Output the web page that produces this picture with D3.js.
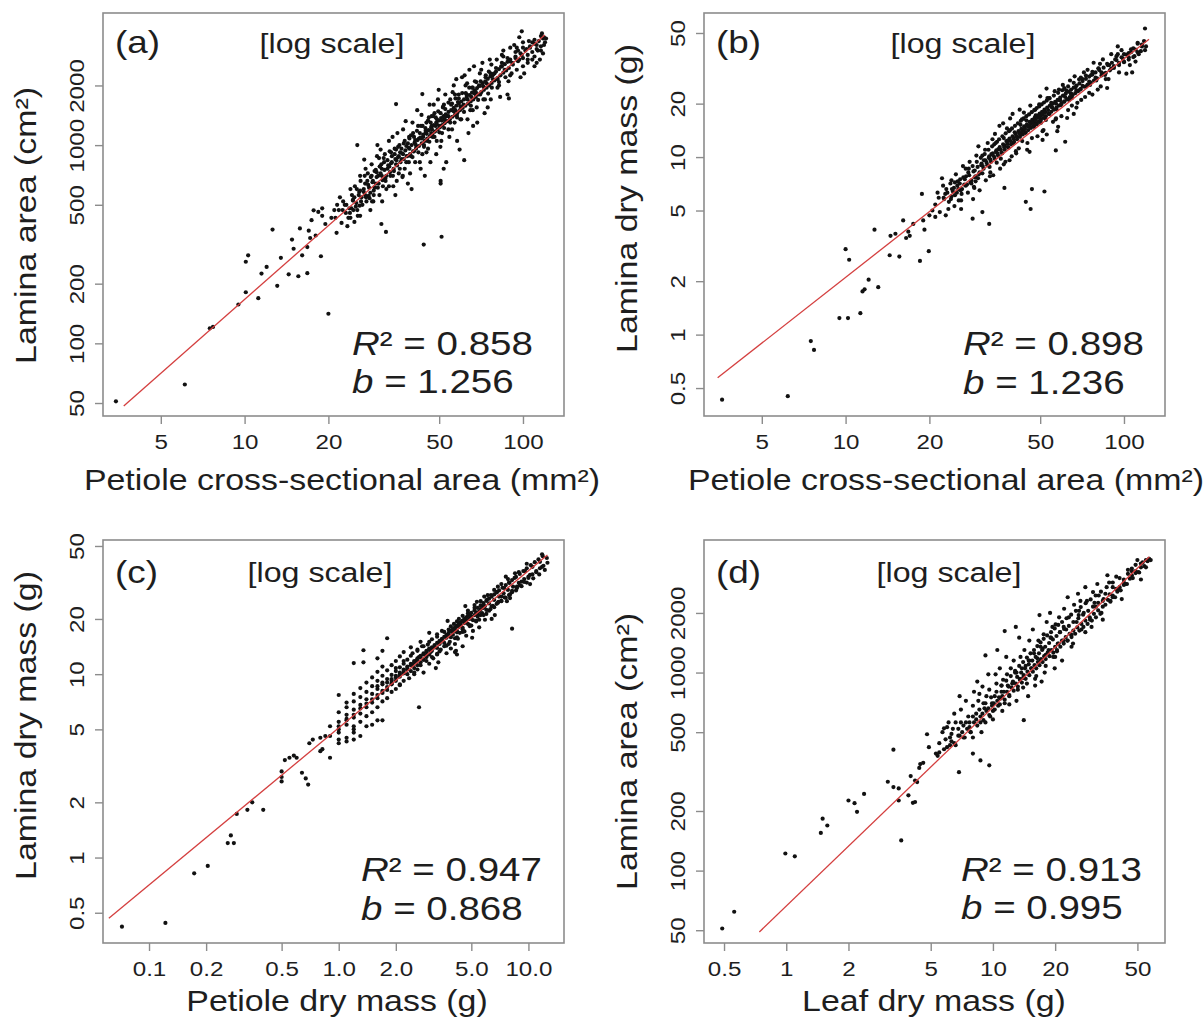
<!DOCTYPE html>
<html lang="en">
<head>
<meta charset="utf-8">
<title>Lamina vs petiole scaling</title>
<script src="https://cdn.jsdelivr.net/npm/d3@7"></script>
<style>
  body { margin: 0; background: #fff; }
  svg text { font-family: 'Liberation Sans', Arial, sans-serif; fill: #1e1e1e; }
  .frame { fill: none; stroke: #8c8c8c; stroke-width: 1.6; }
  .dot { fill: #111; }
  .fit { stroke: #d43f3f; stroke-width: 1.3; fill: none; }
</style>
</head>
<body>
<svg width="1203" height="1023"></svg>
<script>
// glyphs in the source figure are ~15% wider than Liberation Sans
var SX = 1.15;

// tick values / labels
var xTicksCsa = [5, 10, 20, 50, 100];
var xLabelsCsa = ["5", "10", "20", "50", "100"];
var yTicksArea = [50, 100, 200, 500, 1000, 2000];
var yLabelsArea = ["50", "100", "200", "500", "1000", "2000"];
var yTicksMass = [0.5, 1, 2, 5, 10, 20, 50];
var yLabelsMass = ["0.5", "1", "2", "5", "10", "20", "50"];
var xTicksPetMass = [0.1, 0.2, 0.5, 1, 2, 5, 10];
var xLabelsPetMass = ["0.1", "0.2", "0.5", "1.0", "2.0", "5.0", "10.0"];
var xTicksLeafMass = [0.5, 1, 2, 5, 10, 20, 50];
var xLabelsLeafMass = ["0.5", "1", "2", "5", "10", "20", "50"];

var statsR2 = ["0.858", "0.898", "0.947", "0.913"];
var statsB = ["1.256", "1.236", "0.868", "0.995"];

// fitted lines (end points)
var fitA = [[3.68, 48.3], [119.7, 3594]];
var fitB = [[3.47, 0.571], [123, 46.1]];
var fitC = [[0.0614, 0.466], [12.6, 44.7]];
var fitD = [[0.741, 49], [57.1, 3845]];

// (a) petiole cross-sectional area (mm2) vs lamina area (cm2): scattered points
var ptsA = [
  [3.45,51],[6.1,62],[7.5,119],[7.7,121],[9.5,157],[10.1,181],[11.2,169],[11.5,225],[12.0,243],[13.1,195],
  [10.1,258],[10.3,278],[12.6,375],[14.4,223],[14.8,334],[15.6,218],[15.8,380],[16.1,278],[16.8,226],[16.8,306],
  [17.2,340],[17.4,418],[17.7,469],[18.4,460],[19.0,480],[18.8,275],[20.0,141],[21.4,361],[44.0,315],[51.0,345],
  [35.0,1610],[43.5,1810],[32.2,365],[31.0,400],[50.6,660],[50.6,640],[61.5,840],[89.0,1720],[25.4,1000],[99,3750],
  [117,3660],[13.5,270],[15.0,300],[17.0,370],[19.5,400],[20.5,430],[18.0,350],[21.0,470],[19.0,440],
  [21.2,430],[21.8,470],[22.3,405],[22.6,520],[23.1,455],[23.4,390],[22.0,545],[23.8,480],[21.5,500],[24.0,430],
  [24.3,560],[24.6,470],[24.9,620],[25.2,510],[25.5,440],[25.8,580],[26.1,660],[24.5,525],[25.9,495],[26.3,545],[24.8,410],[26.0,700],[25.3,600],
  [26.8,580],[27.1,640],[27.4,520],[27.7,720],[28.0,610],[28.3,470],[28.6,800],[28.9,660],[27.2,760],[27.9,555],[28.4,690],[29.1,590],[26.9,845],[28.7,520],[29.3,740],
  [29.6,640],[29.9,880],[30.2,700],[30.5,560],[30.8,950],[31.1,760],[31.4,620],[31.7,820],[32.0,680],[30.0,1000],[30.6,780],[31.2,520],[31.9,900],[29.8,730],[32.3,600],[30.4,860],
  [32.6,760],[33.0,1050],[33.4,700],[33.8,880],[34.2,620],[34.6,960],[35.0,800],[35.4,1150],[35.8,720],[33.2,930],[34.0,1100],[34.8,560],[35.6,870],[36.0,1000],[33.6,810],[34.4,740],[35.2,660],[36.2,920],
  [36.6,850],[37.1,1200],[37.6,760],[38.1,990],[38.6,640],[39.1,1080],[39.6,880],[40.1,1300],[40.6,930],[37.3,1020],[38.3,880],[39.3,720],[40.3,1150],[37.9,1320],[39.8,600],[36.9,690],[41.0,1060],[38.9,820],
  [41.4,980],[42.0,1250],[42.6,820],[43.2,1420],[43.8,1100],[44.4,700],[45.0,1300],[45.6,960],[46.2,1600],[46.8,1150],[42.3,1080],[43.5,900],[44.7,1180],[45.9,1380],[41.7,1500],[44.1,1000],[46.5,820],[47.0,1250],[42.9,760],[45.3,1050],
  [47.4,1100],[48.1,1450],[48.8,900],[49.5,1700],[50.2,1250],[50.9,1050],[51.6,1550],[52.3,1350],[53.0,820],[48.5,1250],[49.8,1900],[51.2,1150],[52.6,1800],[47.8,1600],[50.5,980],[53.2,1400],[49.1,1350],[51.9,760],
  [54.0,1400],[54.8,1700],[55.6,1200],[56.4,2000],[57.2,1500],[58.0,1050],[58.8,1800],[59.6,1350],[60.4,2200],[55.2,1600],[56.8,1300],[58.4,1650],[59.2,950],[57.6,2150],[54.4,1100],[60.0,1550],[55.9,1850],[57.9,1420],
  [61.2,1600],[62.2,2000],[63.2,1350],[64.2,2400],[65.2,1750],[66.2,1250],[67.2,2100],[68.2,1550],[62.7,1800],[64.7,1500],[66.7,2500],[63.7,1150],[65.7,1950],[61.7,2250],[67.7,1850],[68.5,1300],
  [69.5,2000],[70.8,2400],[72.1,1700],[73.4,2200],[74.7,1550],[76.0,2700],[77.3,1950],[70.2,1800],[71.5,2600],[74.0,2050],[75.4,2350],[72.8,1450],[77.8,2250],[76.6,1700],
  [79,2300],[80.5,2700],[82,2000],[83.5,2500],[85,3000],[86.5,2200],[88,1800],[89.5,2650],[81,2150],[84,2850],[87,2400],[90,3100],[82.8,1750],[88.7,2100],
  [91.5,2600],[93,3200],[95,2400],[97,3500],[99,2850],[101,2300],[103,3050],[94,2750],[98,2200],[100,3300],[104,2700],[96,3000],
  [106,3100],[108,2700],[110,3400],[113,3000],[116,3550],[119,3200],[112,2600],[118,2900],[121,3450],[115,2700],[110,2500]
];
// (a) dense band along the fitted line
var coreA = [
  [22.5,470],[23.2,500],[23.9,455],[24.5,530],[25.1,490],[25.7,560],[26.2,520],[26.8,600],[27.3,545],[27.8,630],
  [28.3,575],[28.8,650],[29.3,610],[29.8,690],[30.3,640],[30.8,720],[31.3,665],[31.8,750],[32.3,700],[32.8,790],
  [33.3,730],[33.8,820],[34.3,760],[34.8,850],[35.3,790],[35.8,880],[36.3,820],[36.8,910],[37.3,850],[37.8,940],
  [38.3,880],[38.8,970],[39.3,900],[39.8,1000],[40.3,930],[40.8,1030],[41.3,960],[41.8,1060],[42.3,990],[42.8,1090],
  [43.3,1020],[43.8,1130],[44.3,1050],[44.8,1160],[45.3,1080],[45.8,1190],[46.3,1110],[46.8,1230],[47.3,1140],[47.8,1260],
  [48.3,1170],[48.8,1300],[49.3,1200],[49.8,1330],[50.3,1230],[50.8,1370],[51.3,1260],[51.8,1400],[52.3,1290],[52.8,1430],
  [53.4,1320],[54.0,1470],[54.6,1350],[55.2,1500],[55.8,1390],[56.4,1540],[57.0,1420],[57.6,1580],[58.2,1460],[58.8,1620],
  [59.4,1500],[60.0,1660],[60.7,1540],[61.4,1700],[62.1,1580],[62.8,1750],[63.5,1620],[64.2,1790],[64.9,1660],[65.6,1840],
  [66.3,1700],[67.0,1890],[67.7,1750],[68.4,1940],[69.2,1800],[70.0,1990],[70.8,1850],[71.6,2050],[72.4,1900],[73.2,2100],
  [74.0,1950],[74.8,2160],[75.6,2000],[76.4,2220],[77.2,2060],[78.0,2280],[79,2120],[80,2350],[81,2180],[82,2420],
  [83,2250],[84,2490],[85,2320],[86,2560],[87,2380],[88,2630],[89,2450],[90,2700],[92,2550],[94,2800],
  [96,2650],[98,2900],[100,2750],[102,3000],[104,2850],[106,3150],[108,2950],[110,3250],[112,3050],[114,3350],
  [116,3150],[118,3450],[120,3300],
  [24,600],[26,440],[27,700],[29,520],[31,800],[33,620],[35,950],[37,700],[39,1100],[41,820],
  [43,1250],[45,920],[47,1400],[49,1050],[52,1600],[54,1200],[57,1800],[60,1350],[63,2050],[66,1500],
  [70,2300],[73,1700],[77,2550],[81,1950],[85,2800],[90,2250],[95,3100],[100,2500],[105,3350],[110,2800],
  [22.9,500],[23.6,430],[24.2,480],[24.8,545],[25.4,470],[26.0,590],[26.5,500],[27.1,560],[27.6,660],[28.1,540],
  [28.6,700],[29.1,560],[29.6,750],[30.1,610],[30.6,780],[31.1,700],[31.6,860],[32.1,660],[32.6,840],[33.1,780],
  [33.6,920],[34.1,700],[34.6,900],[35.1,840],[35.6,980],[36.1,760],[36.6,960],[37.1,900],[37.6,1050],[38.1,820],
  [38.6,1020],[39.1,960],[39.6,1120],[40.1,870],[40.6,1100],[41.1,1010],[41.6,1180],[42.1,920],[42.6,1150],[43.1,1080],
  [43.6,1250],[44.1,980],[44.6,1220],[45.1,1140],[45.6,1330],[46.1,1040],[46.6,1300],[47.1,1200],[47.6,1400],[48.1,1100],
  [48.6,1380],[49.1,1270],[49.6,1480],[50.1,1160],[50.6,1450],[51.1,1330],[51.6,1560],[52.1,1220],[52.6,1520],[53.2,1400],
  [54.0,1640],[54.8,1300],[55.6,1620],[56.4,1480],[57.2,1720],[58.0,1380],[58.8,1720],[59.6,1570],[60.5,1830],[61.4,1470],
  [62.3,1830],[63.2,1700],[64.1,1950],[65.0,1580],[66,1950],[67,1820],[68,2080],[69,1690],[70.5,2100],[72,1980],
  [73.5,2250],[75,1820],[76.5,2300],[78,2150],[80,2450],[82,2080],[84,2600],[86,2400],[88,2750],[91,2300],
  [94,2950],[97,2700],[100,3100],[104,2600],[108,3300],[112,3200],[116,3000],[119,3500]
];

// (b) petiole cross-sectional area (mm2) vs lamina dry mass (g)
var ptsB = [
  [3.6,0.43],[6.2,0.45],[7.5,0.92],[7.7,0.82],[9.5,1.24],[10.2,1.24],[11.3,1.32],[11.5,1.75],[11.7,1.8],[12.1,2.04],
  [13.1,1.85],[10.0,3.03],[10.3,2.64],[12.7,3.9],[14.4,2.8],[15.6,2.75],[15.1,3.7],[16.5,3.5],[17.0,3.6],[16.8,3.8],
  [16.1,4.4],[18.5,2.6],[19.9,2.95],[19.2,3.9],[19.0,4.4],[20.0,4.7],[18.8,6.2],[32.8,4.2],[28.6,4.5],[31.0,4.9],
  [37.2,6.7],[44.4,5.6],[46.2,5.1],[46.7,6.6],[51.8,6.4],[56.9,10.9],[61.5,12.2],[52.7,24.3],[119,53],[107,30],
  [14.5,3.6],[17.5,4.2],[20.5,5.0],[21.0,4.6],
  [21.0,5.4],[21.4,6.3],[21.8,4.9],[22.2,7.6],[22.6,5.8],[23.0,6.6],[23.4,5.1],[23.8,7.1],[21.6,5.9],[22.9,4.7],[24.0,6.0],[22.4,6.9],
  [24.3,6.4],[24.6,5.3],[24.9,8.0],[25.2,6.9],[25.5,5.7],[25.8,7.5],[26.1,6.2],[26.4,8.9],[24.7,7.2],[26.0,5.1],[25.4,6.6],[26.7,7.0],
  [27.1,7.8],[27.5,6.3],[27.9,9.4],[28.3,7.1],[28.7,5.8],[29.1,8.4],[29.5,10.2],[29.9,7.6],[30.3,6.5],[30.7,9.0],[27.7,8.6],[28.9,6.8],[30.0,11.5],[29.3,7.3],[31.0,8.1],
  [31.4,9.6],[31.9,7.4],[32.4,12.0],[32.9,8.8],[33.4,10.4],[33.9,7.9],[34.4,13.5],[34.9,9.3],[35.4,11.1],[35.9,8.6],[31.7,11.0],[32.7,9.9],[33.7,12.6],[34.7,10.7],[35.7,15.0],[36.1,9.8],[33.1,8.2],[34.2,11.8],
  [36.5,10.5],[37.0,12.8],[37.5,9.4],[38.0,14.5],[38.5,11.3],[39.0,16.5],[39.5,10.1],[40.0,12.0],[40.5,13.8],[37.3,11.6],[38.8,9.6],[39.8,17.5],[40.9,10.8],[36.8,15.5],[38.2,12.4],
  [41.3,13.0],[41.9,11.2],[42.5,15.2],[43.1,12.3],[43.7,17.8],[44.3,13.7],[44.9,11.0],[45.5,14.9],[46.1,19.5],[46.7,12.8],[42.2,18.5],[43.4,14.2],[44.6,16.1],[45.8,10.7],[47.0,15.8],[42.8,13.5],
  [47.5,14.8],[48.2,17.2],[48.9,13.1],[49.6,19.8],[50.3,15.6],[51.0,12.5],[51.7,18.0],[52.4,16.2],[53.1,21.5],[48.6,15.3],[50.0,22.0],[51.4,14.2],[52.8,13.4],[49.3,16.8],
  [54.0,17.5],[54.8,20.2],[55.6,15.8],[56.4,23.5],[57.2,18.6],[58.0,14.8],[58.8,21.0],[59.6,17.0],[60.3,25.5],[55.2,19.0],[56.8,16.3],[58.4,24.0],[59.2,19.6],[57.6,14.0],
  [61.0,20.5],[62.0,23.8],[63.0,18.4],[64.0,27.0],[65.0,21.5],[66.0,17.5],[67.0,24.8],[68.0,20.2],[62.5,16.6],[64.5,22.8],[66.5,28.5],[63.5,21.0],[67.5,19.0],
  [69.5,24.0],[71.0,27.5],[72.5,21.8],[74.0,31.0],[75.5,25.5],[77.0,22.5],[70.2,21.0],[73.2,25.0],[76.2,29.0],[77.8,34.0],[71.8,30.0],
  [79.5,27.0],[81,31.5],[82.5,25.0],[84,35.5],[85.5,29.0],[87,24.5],[88.5,33.0],[90,38.0],[80.5,24.0],[86,27.5],[83,30.0],
  [92,32.5],[94,37.0],[96,30.0],[98,40.0],[100,34.5],[102,29.5],[104,38.5],[95,42.0],[99,36.0],
  [106,40.5],[109,37.0],[112,43.5],[115,39.5],[118,45.0],[110,34.5],[120,42.0]
];
var coreB = [
  [22.5,5.9],[23.2,6.3],[23.9,5.8],[24.5,6.7],[25.1,6.3],[25.7,7.1],[26.2,6.6],[26.8,7.5],[27.3,7.0],[27.8,7.9],
  [28.3,7.4],[28.8,8.3],[29.3,7.8],[29.8,8.8],[30.3,8.2],[30.8,9.2],[31.3,8.6],[31.8,9.6],[32.3,9.0],[32.8,10.1],
  [33.3,9.4],[33.8,10.5],[34.3,9.8],[34.8,10.9],[35.3,10.2],[35.8,11.4],[36.3,10.6],[36.8,11.8],[37.3,11.0],[37.8,12.3],
  [38.3,11.4],[38.8,12.7],[39.3,11.8],[39.8,13.1],[40.3,12.2],[40.8,13.5],[41.3,12.6],[41.8,14.0],[42.3,13.0],[42.8,14.4],
  [43.3,13.4],[43.8,14.9],[44.3,13.8],[44.8,15.3],[45.3,14.2],[45.8,15.8],[46.3,14.6],[46.8,16.2],[47.3,15.0],[47.8,16.7],
  [48.3,15.4],[48.8,17.1],[49.3,15.8],[49.8,17.6],[50.3,16.2],[50.8,18.0],[51.3,16.6],[51.8,18.5],[52.4,17.0],[53.0,19.0],
  [53.6,17.5],[54.2,19.5],[54.8,18.0],[55.4,20.0],[56.0,18.5],[56.6,20.5],[57.2,19.0],[57.8,21.0],[58.4,19.5],[59.0,21.6],
  [59.7,20.0],[60.4,22.2],[61.1,20.6],[61.8,22.8],[62.5,21.2],[63.2,23.4],[63.9,21.8],[64.6,24.0],[65.3,22.3],[66.0,24.6],
  [66.8,22.9],[67.6,25.3],[68.4,23.5],[69.2,26.0],[70.0,24.2],[71,26.8],[72,24.9],[73,27.6],[74,25.6],[75,28.4],
  [76,26.3],[77,29.2],[78,27.0],[79,30.0],[80,27.8],[81.5,30.9],[83,28.8],[84.5,31.9],[86,29.8],[87.5,33.0],
  [89,30.8],[90.5,34.0],[92,31.8],[94,35.2],[96,33.0],[98,36.5],[100,34.2],[102,37.8],[104,35.4],[106,39.0],
  [108,36.6],[110,40.3],[113,38.0],[116,42.0],[119,40.0],
  [24,7.4],[26,5.7],[27,8.6],[29,6.7],[31,10.2],[33,7.8],[35,12.2],[37,9.1],[39,14.2],[41,10.5],
  [43,16.3],[45,12.0],[48,18.5],[51,14.0],[54,21.5],[57,16.5],[61,24.5],[65,19.5],[70,28.0],[75,23.0],
  [82,33.5],[88,27.5],[95,38.0],[105,33.0],[112,44.0],
  [22.8,6.2],[23.5,5.6],[24.1,6.6],[24.7,6.1],[25.3,7.3],[25.9,6.5],[26.5,7.7],[27.0,6.9],[27.6,8.2],[28.1,7.2],
  [28.6,8.9],[29.1,7.7],[29.6,9.4],[30.1,8.0],[30.6,9.9],[31.1,8.9],[31.6,10.4],[32.1,9.3],[32.6,11.0],[33.1,9.7],
  [33.6,11.5],[34.1,10.1],[34.6,12.0],[35.1,10.5],[35.6,12.6],[36.1,11.0],[36.6,13.1],[37.1,11.4],[37.6,13.6],[38.1,11.9],
  [38.6,14.0],[39.1,12.3],[39.6,14.5],[40.1,12.7],[40.6,15.0],[41.1,13.1],[41.6,15.5],[42.1,13.6],[42.6,16.0],[43.1,14.0],
  [43.6,16.5],[44.1,14.4],[44.6,17.0],[45.1,14.9],[45.6,17.4],[46.1,15.3],[46.6,17.9],[47.1,15.7],[47.6,18.4],[48.1,16.1],
  [48.6,18.9],[49.1,16.6],[49.6,19.3],[50.1,17.0],[50.6,19.8],[51.1,17.4],[51.6,20.3],[52.2,17.9],[52.8,20.8],[53.4,18.4],
  [54,21.4],[55,19.2],[56,22.2],[57,20.0],[58,23.0],[59,20.8],[60,23.8],[61.5,21.8],[63,25.0],[64.5,22.8],
  [66,26.2],[67.5,23.8],[69,27.4],[71,25.2],[73,28.8],[75,26.6],[77,30.2],[79,28.0],[81,31.6],[84,29.5],
  [87,33.5],[90,31.5],[93,35.5],[96,34.0],[100,38.0],[104,36.5],[108,41.0],[112,39.0],[116,43.0]
];

// (c) petiole dry mass (g) vs lamina dry mass (g)
var ptsC = [
  [0.072,0.42],[0.122,0.44],[0.173,0.82],[0.204,0.9],[0.26,1.2],[0.27,1.32],[0.28,1.2],[0.29,1.73],[0.33,1.82],[0.35,2.0],
  [0.40,1.82],[0.5,2.6],[0.5,2.75],[0.5,2.95],[0.52,3.4],[0.55,3.5],[0.58,3.6],[0.6,3.5],[0.64,2.9],[0.67,2.7],
  [0.69,2.5],[0.7,4.2],[0.73,4.4],[0.8,3.8],[0.82,3.9],[0.9,3.5],[1.0,7.7],[0.8,4.5],[0.85,4.6],[1.0,4.2],
  [1.1,4.3],[1.2,4.4],[1.2,4.8],[1.2,5.0],[1.3,4.6],[1.4,5.2],[1.5,5.3],[1.6,5.6],[1.7,5.6],[1.2,11.5],
  [1.35,11.6],[1.35,13.5],[1.6,12.2],[1.7,13.4],[1.8,15.7],[2.65,6.6],[8.2,17.7],[4.5,14.2],[4.1,13.2],[4.2,12.8],
  [0.9,4.6],[0.9,5.2],[1.0,4.4],[1.0,5.0],[1.0,5.5],[1.0,6.2],[1.0,4.8],[1.1,5.3],[1.1,6.0],[1.1,6.6],[1.1,4.5],[1.1,7.0],[1.1,5.7],
  [1.2,5.8],[1.2,6.4],[1.2,7.1],[1.2,5.2],[1.2,7.8],[1.3,6.1],[1.3,6.8],[1.3,7.5],[1.3,8.4],[1.3,5.5],[1.4,6.6],[1.4,7.3],[1.4,8.0],[1.4,9.0],[1.4,5.9],
  [1.5,7.0],[1.5,7.8],[1.5,8.6],[1.5,6.2],[1.5,9.6],[1.6,7.4],[1.6,8.3],[1.6,9.2],[1.6,6.6],[1.6,10.3],[1.7,7.9],[1.7,8.8],[1.7,9.8],[1.7,7.1],[1.7,11.0],
  [1.8,8.2],[1.8,9.4],[1.8,10.5],[1.8,7.4],[1.9,8.8],[1.9,9.9],[1.9,11.2],[1.9,8.0],[2.0,9.2],[2.0,10.4],[2.0,11.8],[2.0,8.3],[2.1,9.7],[2.1,10.9],[2.1,12.5],[2.1,8.8],[2.2,10.1],[2.2,11.4],[2.2,9.2],[2.2,13.2],
  [2.3,10.6],[2.3,12.0],[2.35,9.5],[2.45,11.2],[2.45,13.0],[2.5,10.0],[2.55,11.8],[2.6,13.6],[2.6,10.6],[2.65,12.4],[2.7,11.2],[2.75,14.2],[2.8,12.0],[2.8,10.2],[2.4,14.0],[2.7,15.0],
  [2.9,12.6],[2.95,14.5],[3.0,11.4],[3.05,13.2],[3.1,15.5],[3.15,12.2],[3.2,14.0],[3.3,12.9],[3.3,16.5],[3.35,11.6],[3.4,14.8],[3.45,13.6],[3.5,17.2],[3.0,16.8],[3.25,10.8],
  [3.6,14.2],[3.65,16.0],[3.7,13.0],[3.8,17.5],[3.85,15.0],[3.9,13.8],[4.0,16.4],[4.05,18.8],[4.1,14.6],[4.2,17.2],[4.25,15.6],[4.3,20.0],[4.35,16.8],[3.75,19.5],[4.15,13.4],
  [4.5,17.6],[4.6,19.8],[4.7,16.2],[4.8,21.5],[4.9,18.5],[5.0,20.5],[5.1,17.2],[5.2,23.0],[5.3,19.4],[5.4,21.2],[5.5,18.0],[4.65,23.5],[5.05,15.8],[5.35,24.8],
  [5.6,21.0],[5.75,23.5],[5.9,19.8],[6.05,25.5],[6.2,22.2],[6.35,27.0],[6.5,23.6],[6.65,21.0],[6.8,28.0],[6.95,24.8],[5.85,26.5],[6.4,20.0],[6.9,30.0],
  [7.2,26.5],[7.45,29.5],[7.7,25.0],[7.95,31.5],[8.2,28.0],[8.45,33.5],[8.7,30.0],[7.6,34.0],[8.9,36.0],[8.0,26.0],
  [9.2,32.0],[9.6,36.5],[10.0,34.0],[10.5,38.5],[11.0,36.0],[11.5,41.0],[12.0,39.0],[12.5,43.0],[10.2,31.0],[11.8,45.0],[9.8,40.0]
];
var coreC = [
  [1.0,5.2],[1.1,5.6],[1.2,6.0],[1.3,6.5],[1.4,6.9],[1.5,7.3],[1.6,7.7],[1.7,8.1],[1.8,8.5],[1.9,8.9],
  [1.8,9.0],[1.9,9.4],[2.0,9.8],[2.1,10.2],[2.2,10.6],[2.3,11.0],[2.4,11.4],[2.5,11.8],[2.6,12.2],[2.7,12.6],[2.8,13.0],[2.9,13.4],[3.0,13.8],
  [2.3,10.0],[2.4,10.4],[2.5,10.8],[2.6,11.2],[2.7,11.6],[2.8,12.0],[2.9,12.4],[3.0,12.8],
  [3.1,13.4],[3.2,14.2],[3.3,13.9],[3.4,14.6],[3.5,15.3],[3.6,14.8],[3.7,15.8],[3.8,16.4],[3.9,15.9],[4.0,17.0],
  [4.1,17.6],[4.2,16.9],[4.3,18.1],[4.4,18.6],[4.5,17.9],[4.6,19.0],[4.7,19.6],[4.8,18.8],[4.9,20.0],[5.0,20.6],
  [5.1,19.7],[5.2,21.0],[5.3,21.6],[5.4,20.6],[5.5,22.0],[5.6,22.6],[5.7,21.5],[5.8,23.0],[5.9,23.5],[6.0,22.4],
  [6.2,24.3],[6.4,23.4],[6.6,25.4],[6.8,24.2],[7.0,26.5],[7.2,25.1],[7.4,27.6],[7.6,26.1],[7.8,28.8],[8.0,27.2],
  [8.3,30.0],[8.6,28.6],[8.9,31.5],[9.2,30.2],[9.5,33.0],[9.8,31.6],[10.2,34.8],[10.6,33.3],[11.0,36.5],[11.4,35.0],
  [11.8,38.5],[12.2,37.0],[12.6,40.5],
  [1.6,8.6],[1.7,9.0],[2.0,10.8],[2.2,11.8],[2.4,12.6],[2.6,13.4],[2.8,14.2],[3.0,15.0],[3.3,16.0],[3.6,17.0],
  [3.9,18.2],[4.2,19.4],[4.5,20.8],[4.8,22.2],[5.2,23.8],[5.6,25.0],[6.1,27.0],[6.6,28.8],[7.2,31.0],[7.8,33.0],[8.5,35.5],
  [2.1,8.7],[2.5,10.2],[2.9,11.8],[3.3,12.8],[3.7,14.3],[4.1,15.7],[4.5,17.0],[4.9,18.3],[5.3,19.6],[5.8,21.0],
  [6.3,22.6],[6.9,24.5],[7.5,26.2],[8.2,28.5],[9.0,30.5],[10.0,33.5],
  [1.9,9.2],[2.0,9.6],[2.1,10.0],[2.2,10.4],[2.3,10.8],[2.4,11.2],[2.5,11.6],[2.6,12.0],[2.7,12.4],[2.8,12.8],
  [2.9,13.2],[3.0,13.6],[3.1,14.0],[3.2,14.4],[3.3,14.8],[3.4,15.2],[3.5,15.6],[3.6,16.0],[3.7,16.4],[3.8,16.8],
  [3.9,17.2],[4.0,17.6],[4.1,18.0],[4.2,18.4],[4.3,18.8],[4.4,19.2],[4.5,19.6],[4.6,20.0],[4.7,20.4],[4.8,20.8],
  [4.9,21.2],[5.0,21.6],[5.2,22.3],[5.4,23.0],[5.6,23.7],[5.8,24.4],[6.0,25.1],[6.2,25.8],[6.4,26.5],[6.6,27.2],
  [6.8,27.9],[7.0,28.6],[7.3,29.6],[7.6,30.6],[7.9,31.6],[8.2,32.6],[8.6,33.9],[9.0,35.2],[9.4,36.5],[9.8,37.8],
  [10.3,39.3],[10.8,40.8],[11.3,42.3],[11.9,44.0],
  [3.1,12.4],[3.4,13.3],[3.8,14.6],[4.2,15.9],[4.6,17.1],[5.0,18.4],[5.5,19.8],[6.0,21.3],[6.6,23.2],[7.2,25.0],
  [7.9,27.0],[8.7,29.5],[9.5,31.8],[10.5,35.0],[11.5,37.8]
];

// (d) leaf dry mass (g) vs lamina area (cm2)
var ptsD = [
  [0.49,51],[0.56,62],[0.99,122],[1.1,118],[1.47,155],[1.5,183],[1.58,169],[2.0,226],[2.14,219],[2.2,198],
  [2.38,244],[3.1,281],[3.3,264],[3.3,408],[3.5,260],[3.5,226],[3.6,142],[3.9,240],[4.1,220],[4.2,222],
  [4.0,300],[4.2,285],[4.3,280],[4.4,330],[4.6,350],[4.45,345],[4.8,488],[4.9,420],[5.3,390],[5.4,380],
  [5.5,395],[5.8,523],[6.85,314],[8.0,390],[8.7,360],[9.6,340],[11.4,1620],[9.2,1220],[14.1,575],
  [5.5,440],[5.7,500],[5.9,460],[6.1,560],[6.3,490],[6.5,620],[5.8,410],[6.2,430],[6.0,530],[6.4,520],
  [6.6,560],[6.8,480],[7.0,650],[7.2,540],[7.4,720],[7.6,600],[7.8,500],[8.0,680],[6.9,760],[7.3,470],[7.7,560],[8.1,800],
  [8.3,620],[8.5,720],[8.7,560],[8.9,850],[9.1,660],[9.3,760],[9.5,980],[9.7,600],[9.9,700],[8.4,900],[8.8,500],[9.2,560],[9.6,820],[10.0,640],[8.6,780],
  [10.2,760],[10.4,880],[10.6,680],[10.8,1050],[11.0,800],[11.2,920],[11.4,700],[11.6,1200],[11.8,860],[12.0,760],[10.5,1300],[11.1,640],[11.7,980],[10.9,740],[12.2,1050],[10.3,980],
  [12.4,880],[12.8,1000],[13.2,820],[13.6,1200],[14.0,940],[14.4,1080],[14.8,760],[15.0,1450],[12.6,1150],[13.0,720],[13.4,1500],[13.8,1050],[14.2,1300],[14.6,880],[12.9,1700],[14.9,1150],[13.5,920],
  [15.4,1050],[15.8,1250],[16.2,960],[16.6,1450],[17.0,1150],[17.4,1320],[17.8,1000],[18.2,1800],[15.6,1650],[16.0,860],[16.4,1180],[16.8,1950],[17.2,900],[17.6,1560],[18.0,1230],
  [18.6,1300],[19.1,1500],[19.6,1200],[20.1,1750],[20.6,1400],[21.1,1600],[21.6,1150],[22.1,2100],[18.9,2000],[19.9,1050],[20.9,1900],[21.9,1450],[19.4,1700],[20.4,1280],
  [22.6,1650],[23.3,1900],[24.0,1550],[24.7,2200],[25.4,1800],[26.1,2050],[26.8,1650],[23.0,2400],[24.4,1400],[25.8,2500],[22.9,1450],[26.5,2300],
  [27.5,2000],[28.5,2300],[29.5,1850],[30.5,2550],[31.5,2150],[32.5,2450],[33.5,2000],[28,2700],[30,1700],[32,2800],[34,2300],
  [35,2500],[36.5,2850],[38,2400],[39.5,3050],[41,2700],[37,2300],[40,2600],[35.8,3100],
  [43,2950],[45,3300],[47,3100],[49,3500],[51,3200],[53,3600],[55,3400],[57,3750],[44,2800],[50,3700]
];
var coreD = [
  [6.0,420],[6.3,450],[6.6,430],[6.9,480],[7.2,470],[7.5,520],[7.8,500],[8.1,560],[8.4,540],[8.7,600],
  [9.0,575],[9.3,640],[9.6,610],[9.9,680],[10.2,650],[10.5,720],[10.8,690],[11.1,760],[11.4,730],[11.7,800],
  [12.0,770],[12.3,840],[12.6,810],[12.9,880],[13.2,850],[13.5,930],[13.8,890],[14.1,970],[14.4,930],[14.7,1010],
  [15.0,970],[15.3,1050],[15.6,1010],[15.9,1090],[16.2,1050],[16.5,1130],[16.8,1090],[17.1,1170],[17.4,1130],[17.7,1210],
  [18.0,1170],[18.4,1260],[18.8,1210],[19.2,1300],[19.6,1260],[20.0,1350],[20.4,1300],[20.8,1400],[21.2,1350],[21.6,1450],
  [22.0,1400],[22.5,1510],[23.0,1450],[23.5,1570],[24.0,1510],[24.5,1630],[25.0,1570],[25.6,1690],[26.2,1630],[26.8,1760],
  [27.4,1700],[28.0,1830],[28.7,1760],[29.4,1900],[30.1,1830],[30.8,1980],[31.5,1900],[32.3,2060],[33.1,1980],[34.0,2150],
  [35,2200],[36,2330],[37,2280],[38,2450],[39,2400],[40,2560],[41.5,2600],[43,2770],[44.5,2800],[46,2980],
  [47.5,3000],[49,3180],[50.5,3220],[52,3400],[54,3450],[56,3650],[58,3700],
  [7,560],[8,470],[9,700],[10,580],[11,860],[12,690],[13,1000],[14,840],[15,1150],[16,930],
  [17,1350],[18,1080],[19,1500],[20,1200],[22,1700],[24,1350],[26,1950],[28,1600],[31,2250],[34,1850],
  [38,2700],[42,2350],[47,3250],[52,2950],
  [6.2,470],[6.5,440],[6.8,520],[7.1,500],[7.4,560],[7.7,530],[8.0,600],[8.3,580],[8.6,650],[8.9,620],
  [9.2,700],[9.5,660],[9.8,750],[10.1,700],[10.4,800],[10.7,750],[11.0,860],[11.3,800],[11.6,910],[11.9,850],
  [12.2,960],[12.5,900],[12.8,1020],[13.1,950],[13.4,1080],[13.7,1000],[14.0,1130],[14.3,1050],[14.6,1190],[14.9,1100],
  [15.2,1250],[15.5,1150],[15.8,1300],[16.1,1200],[16.4,1360],[16.7,1250],[17.0,1420],[17.3,1300],[17.6,1480],[17.9,1350],
  [18.3,1540],[18.7,1410],[19.1,1600],[19.5,1470],[19.9,1670],[20.3,1530],[20.7,1740],[21.1,1600],[21.6,1800],[22.1,1660],
  [22.7,1880],[23.3,1720],[23.9,1960],[24.5,1800],[25.2,2050],[25.9,1880],[26.6,2140],[27.3,1960],[28.1,2240],[28.9,2050],
  [29.7,2340],[30.5,2150],[31.4,2450],[32.3,2250],[33.3,2560],[34.3,2350],[35.5,2700],[36.7,2480],[38,2850],[39.5,2650],
  [41,3000],[43,2850],[45,3150],[47,3350],[49,3250],[52,3550],[55,3700]
];

var W = 461, H = 403;

var panels = [
  { tag: "(a)", pts: ptsA.concat(coreA), fit: fitA, xDom: [3.10, 140.4], yDom: [43, 4640],
    xt: xTicksCsa, xl: xLabelsCsa, yt: yTicksArea, yl: yLabelsArea,
    xTitle: "Petiole cross-sectional area (mm²)", yTitle: "Lamina area (cm²)",
    left: 103, top: 13, logX: 229, logY: 40, tagY: 40, statX: 249, r2Y: 342, bY: 380,
    xtC: 239, xtY: 74, ytC: 11 },
  { tag: "(b)", pts: ptsB.concat(coreB), fit: fitB, xDom: [3.10, 140.4], yDom: [0.348, 64.8],
    xt: xTicksCsa, xl: xLabelsCsa, yt: yTicksMass, yl: yLabelsMass,
    xTitle: "Petiole cross-sectional area (mm²)", yTitle: "Lamina dry mass (g)",
    left: 704, top: 13, logX: 259, logY: 40, tagY: 40, statX: 259, r2Y: 342, bY: 381,
    xtC: 242, xtY: 74, ytC: -16 },
  { tag: "(c)", pts: ptsC.concat(coreC), fit: fitC, xDom: [0.0572, 15.4], yDom: [0.342, 53.9],
    xt: xTicksPetMass, xl: xLabelsPetMass, yt: yTicksMass, yl: yLabelsMass,
    xTitle: "Petiole dry mass (g)", yTitle: "Lamina dry mass (g)",
    left: 103, top: 540, logX: 217, logY: 42, tagY: 43, statX: 258, r2Y: 341, bY: 380,
    xtC: 234, xtY: 68, ytC: -16 },
  { tag: "(d)", pts: ptsD.concat(coreD), fit: fitD, xDom: [0.40, 68], yDom: [43.1, 4670],
    xt: xTicksLeafMass, xl: xLabelsLeafMass, yt: yTicksArea, yl: yLabelsArea,
    xTitle: "Leaf dry mass (g)", yTitle: "Lamina area (cm²)",
    left: 704, top: 540, logX: 245, logY: 42, tagY: 43, statX: 257, r2Y: 341, bY: 379,
    xtC: 230, xtY: 68, ytC: 10 }
];

var svg = d3.select("svg");

panels.forEach(function(p, k) {
  var g = svg.append("g").attr("transform", "translate(" + p.left + "," + p.top + ")");
  var x = d3.scaleLog().domain(p.xDom).range([0, W]);
  var y = d3.scaleLog().domain(p.yDom).range([H, 0]);

  // points
  g.append("g").selectAll("circle").data(p.pts).join("circle")
    .attr("class", "dot")
    .attr("cx", function(d) { return x(d[0]); })
    .attr("cy", function(d) { return y(d[1]); })
    .attr("r", 2.1);

  // fitted line goes on top of the points
  g.append("path").datum(p.fit)
    .attr("class", "fit")
    .attr("d", d3.line().x(function(d) { return x(d[0]); }).y(function(d) { return y(d[1]); }));

  g.append("rect").attr("class", "frame").attr("width", W).attr("height", H);

  // bottom axis
  var ax = g.append("g").attr("transform", "translate(0," + H + ")")
    .call(d3.axisBottom(x).tickValues(p.xt).tickFormat(function(d, i) { return p.xl[i]; }).tickSize(8));
  ax.select(".domain").remove();
  ax.attr("font-size", null).attr("font-family", null).attr("color", "#8c8c8c");
  ax.selectAll("line").attr("stroke-width", 1.4);
  ax.selectAll("text")
    .attr("y", null).attr("dy", null)
    .attr("fill", "#1e1e1e")
    .attr("font-size", 21)
    .attr("transform", "translate(0,33) scale(" + SX + ",1)");

  // left axis, labels turned like R's las = 0
  var ay = g.append("g")
    .call(d3.axisLeft(y).tickValues(p.yt).tickFormat(function(d, i) { return p.yl[i]; }).tickSize(8));
  ay.select(".domain").remove();
  ay.attr("font-size", null).attr("font-family", null).attr("color", "#8c8c8c");
  ay.selectAll("line").attr("stroke-width", 1.4);
  ay.selectAll("text")
    .attr("x", null).attr("dy", null)
    .attr("fill", "#1e1e1e")
    .attr("font-size", 21)
    .attr("text-anchor", "middle")
    .attr("transform", "translate(-19,0) rotate(-90) scale(" + SX + ",1)");

  // axis titles
  g.append("text")
    .attr("text-anchor", "middle")
    .attr("font-size", 29.5)
    .attr("transform", "translate(" + p.xtC + "," + (H + p.xtY) + ") scale(" + SX + ",1)")
    .text(p.xTitle);

  g.append("text")
    .attr("text-anchor", "middle")
    .attr("font-size", 29.5)
    .attr("transform", "translate(-67," + (H / 2 + p.ytC) + ") rotate(-90) scale(" + SX + ",1)")
    .text(p.yTitle);

  // panel letter and note
  g.append("text")
    .attr("font-size", 32)
    .attr("transform", "translate(12," + p.tagY + ") scale(" + SX + ",1)")
    .text(p.tag);

  g.append("text")
    .attr("font-size", 28)
    .attr("text-anchor", "middle")
    .attr("transform", "translate(" + p.logX + "," + p.logY + ") scale(" + SX + ",1)")
    .text("[log scale]");

  // statistics
  var r2 = g.append("text")
    .attr("font-size", 33.5)
    .attr("transform", "translate(" + p.statX + "," + p.r2Y + ") scale(" + SX + ",1)");
  r2.append("tspan").attr("font-style", "italic").text("R");
  r2.append("tspan").text("² = " + statsR2[k]);

  var bt = g.append("text")
    .attr("font-size", 33.5)
    .attr("transform", "translate(" + p.statX + "," + p.bY + ") scale(" + SX + ",1)");
  bt.append("tspan").attr("font-style", "italic").text("b");
  bt.append("tspan").text(" = " + statsB[k]);
});
</script>
</body>
</html>
